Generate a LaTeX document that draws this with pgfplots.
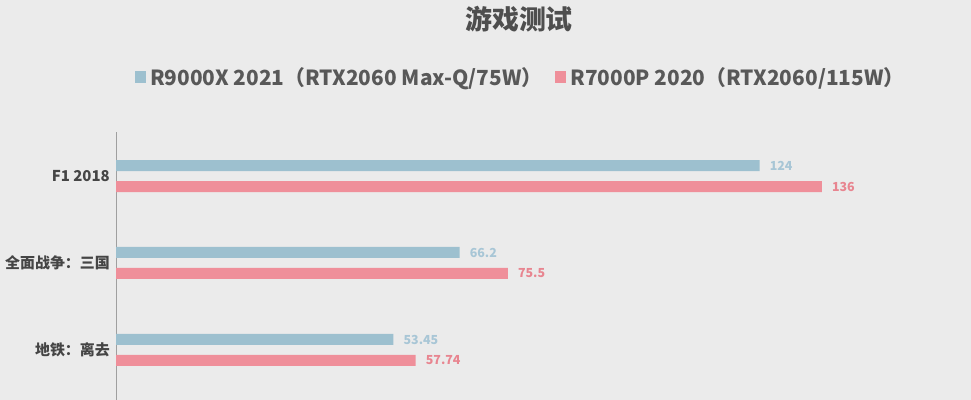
\documentclass[border=0pt]{standalone}
\usepackage{fontspec}
\setmainfont{Noto Sans CJK SC}
\usepackage{pgfplots}
\pgfplotsset{compat=1.18}
\definecolor{bg}{HTML}{EBEBEB}
\definecolor{barblue}{HTML}{9DC0CF}
\definecolor{barred}{HTML}{EF8F9A}
\definecolor{lblblue}{HTML}{A8C6D6}
\definecolor{lblred}{HTML}{E88590}
\definecolor{txt}{HTML}{454545}
\begin{document}
\begin{tikzpicture}
\path[use as bounding box, clip] (0,0) rectangle (971bp,400bp);
\fill[bg] (0,0) rectangle (971bp,400bp);
\node[font=\fontsize{27}{30}\selectfont\bfseries, text=txt!95!white] at (519bp,381bp) {游戏测试};
\begin{axis}[
    at={(116bp,0bp)}, anchor=south west,
    scale only axis,
    width=830.4bp, height=268bp,
    xbar, bar width=11bp,
    xmin=0, xmax=160,
    ymin=-0.575, ymax=2.506,
    axis x line=none,
    axis y line=left,
    axis line style={-, draw=gray!75, line width=1bp},
    ytick={0,1,2},
    yticklabels={地铁：离去, 全面战争：三国, F1 2018},
    major tick length=0pt,
    yticklabel style={font=\fontsize{15}{18}\selectfont\bfseries, text=txt, anchor=east, inner sep=0pt, xshift=-6bp},
    point meta=explicit symbolic,
    nodes near coords,
    nodes near coords style={font=\fontsize{12.5}{15}\selectfont\bfseries, anchor=west, inner sep=0pt, xshift=10bp},
    legend columns=2,
    legend image code/.code={\fill[#1] (0bp,-6bp) rectangle (11bp,6bp);},
    legend style={at={(0.0229,1.205)}, anchor=west, draw=none, fill=none,
        inner sep=0pt, outer sep=0pt,
        font=\fontsize{20.9}{25}\selectfont\bfseries, text=txt!90!white,
        nodes={inner sep=0pt},
        /tikz/every odd column/.append style={column sep=4bp},
        /tikz/every even column/.append style={column sep=13bp}},
]
\addplot[fill=barblue, draw=none, bar shift=10.5bp, nodes near coords style={text=lblblue}]
    coordinates {(53.45,0)[53.45] (66.2,1)[66.2] (124,2)[124]};
\addlegendentry{R9000X 2021（RTX2060 Max-Q/75W）}
\addplot[fill=barred, draw=none, bar shift=-10.5bp, nodes near coords style={text=lblred}]
    coordinates {(57.74,0)[57.74] (75.5,1)[75.5] (136,2)[136]};
\addlegendentry{R7000P 2020（RTX2060/115W）}
\end{axis}
\end{tikzpicture}
\end{document}
